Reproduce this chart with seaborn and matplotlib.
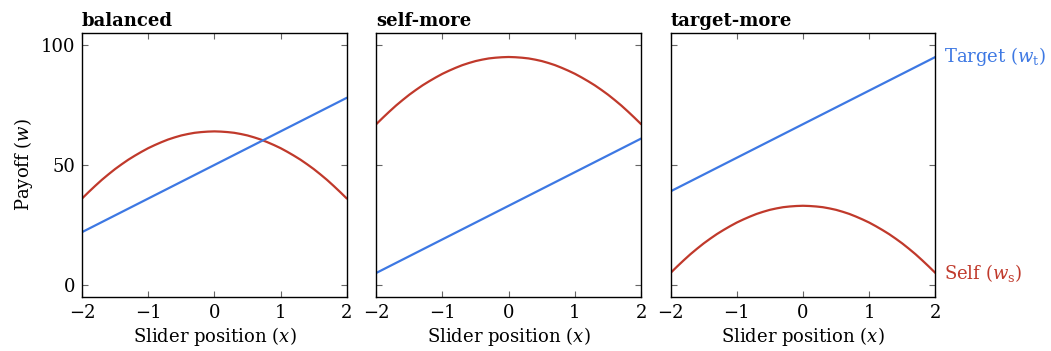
import matplotlib
matplotlib.use("Agg")
import matplotlib.pyplot as plt
import seaborn as sns
import pandas as pd

# Slider grid for the self-payoff curves (step 0.1)
slider_x = [-2.0, -1.9, -1.8, -1.7, -1.6, -1.5, -1.4, -1.3, -1.2, -1.1,
            -1.0, -0.9, -0.8, -0.7, -0.6, -0.5, -0.4, -0.3, -0.2, -0.1,
            0.0,
            0.1, 0.2, 0.3, 0.4, 0.5, 0.6, 0.7, 0.8, 0.9, 1.0,
            1.1, 1.2, 1.3, 1.4, 1.5, 1.6, 1.7, 1.8, 1.9, 2.0]

self_balanced = [36.0, 38.7, 41.3, 43.8, 46.1, 48.3, 50.3, 52.2, 53.9, 55.5,
                 57.0, 58.3, 59.5, 60.6, 61.5, 62.3, 62.9, 63.4, 63.7, 63.9,
                 64.0,
                 63.9, 63.7, 63.4, 62.9, 62.3, 61.5, 60.6, 59.5, 58.3, 57.0,
                 55.5, 53.9, 52.2, 50.3, 48.3, 46.1, 43.8, 41.3, 38.7, 36.0]
self_selfmore = [67.0, 69.7, 72.3, 74.8, 77.1, 79.3, 81.3, 83.2, 84.9, 86.5,
                 88.0, 89.3, 90.5, 91.6, 92.5, 93.3, 93.9, 94.4, 94.7, 94.9,
                 95.0,
                 94.9, 94.7, 94.4, 93.9, 93.3, 92.5, 91.6, 90.5, 89.3, 88.0,
                 86.5, 84.9, 83.2, 81.3, 79.3, 77.1, 74.8, 72.3, 69.7, 67.0]
self_targetmore = [5.0, 7.7, 10.3, 12.8, 15.1, 17.3, 19.3, 21.2, 22.9, 24.5,
                   26.0, 27.3, 28.5, 29.6, 30.5, 31.3, 31.9, 32.4, 32.7, 32.9,
                   33.0,
                   32.9, 32.7, 32.4, 31.9, 31.3, 30.5, 29.6, 28.5, 27.3, 26.0,
                   24.5, 22.9, 21.2, 19.3, 17.3, 15.1, 12.8, 10.3, 7.7, 5.0]

# Target payoffs are linear in the slider position
target_x = [-2.0, 0.0, 2.0]
target_balanced = [22.0, 50.0, 78.0]
target_selfmore = [5.0, 33.0, 61.0]
target_targetmore = [39.0, 67.0, 95.0]

conditions = ["balanced", "self-more", "target-more"]
self_series = [self_balanced, self_selfmore, self_targetmore]
target_series = [target_balanced, target_selfmore, target_targetmore]

x_ticks = [-2, -1, 0, 1, 2]
x_tick_labels = ["\u22122", "\u22121", "0", "1", "2"]
y_ticks = [0, 50, 100]

SELF_COLOR = "#c0392b"
TARGET_COLOR = "#3d78e3"

rows = []
for cond, s_vals, t_vals in zip(conditions, self_series, target_series):
    for xv, yv in zip(slider_x, s_vals):
        rows.append({"condition": cond, "who": "Self", "x": xv, "w": yv})
    for xv, yv in zip(target_x, t_vals):
        rows.append({"condition": cond, "who": "Target", "x": xv, "w": yv})
df = pd.DataFrame(rows)

sns.set_theme(style="ticks")
plt.rcParams["font.family"] = ["DejaVu Serif"]
plt.rcParams["mathtext.fontset"] = "dejavuserif"
plt.rcParams["axes.linewidth"] = 1.0
plt.rcParams["text.color"] = "black"
plt.rcParams["axes.labelcolor"] = "black"

fig = plt.figure(figsize=(10.51, 3.51), dpi=100)
lefts = [0.078, 0.358, 0.638]
axes = [fig.add_axes([l, 0.154, 0.252, 0.752]) for l in lefts]

for i, (ax, cond) in enumerate(zip(axes, conditions)):
    sub = df[df["condition"] == cond]
    sns.lineplot(data=sub, x="x", y="w", hue="who",
                 palette={"Self": SELF_COLOR, "Target": TARGET_COLOR},
                 linewidth=1.6, ax=ax, legend=False, sort=True)
    ax.set_xlim(-2, 2)
    ax.set_ylim(-5, 105)
    ax.set_xticks(x_ticks)
    ax.set_xticklabels(x_tick_labels)
    ax.set_yticks(y_ticks)
    ax.tick_params(direction="in", top=True, right=True, length=4,
                   width=0.8, color="#666666", labelcolor="black",
                   labelsize=13, pad=5)
    for sp in ax.spines.values():
        sp.set_visible(True)
        sp.set_color("black")
    ax.set_xlabel("Slider position ($x$)", fontsize=13, labelpad=2)
    ax.set_title(cond, loc="left", fontsize=13, fontweight="bold", pad=5,
                 color="black")
    if i == 0:
        ax.set_ylabel("Payoff ($w$)", fontsize=13, labelpad=4)
    else:
        ax.set_ylabel("")
        ax.tick_params(labelleft=False)

ax3 = axes[2]
ax3.annotate("Target ($w_\\mathrm{t}$)", xy=(2, target_targetmore[-1]),
             xytext=(6, 0), textcoords="offset points", va="center",
             ha="left", color=TARGET_COLOR, fontsize=13, annotation_clip=False)
ax3.annotate("Self ($w_\\mathrm{s}$)", xy=(2, self_targetmore[-1]),
             xytext=(6, 0), textcoords="offset points", va="center",
             ha="left", color=SELF_COLOR, fontsize=13, annotation_clip=False)

fig.savefig("out.png", dpi=100)
